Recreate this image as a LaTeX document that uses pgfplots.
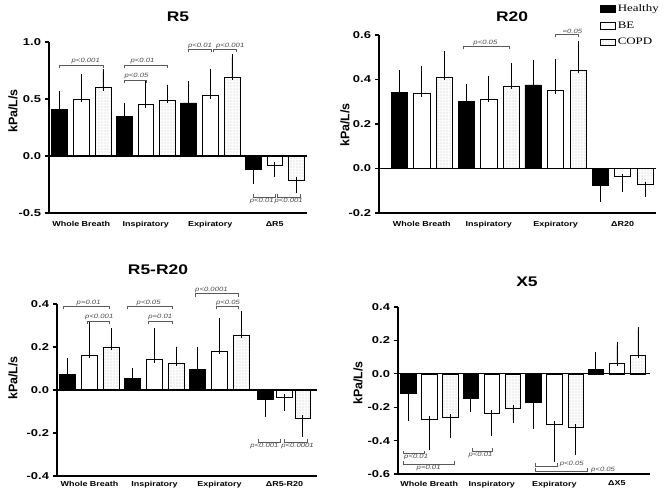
\documentclass[border=0pt]{standalone}
\usepackage{fontspec}
\usepackage{pgfplots}
\usepackage{pgfplotstable}
\pgfplotsset{compat=1.18}
\usetikzlibrary{patterns.meta}
\newfontfamily\wsansb[FakeStretch=1.25]{Liberation Sans Bold}
\newfontfamily\tsansb[FakeStretch=1.3]{Liberation Sans Bold}
\newfontfamily\wsansi[FakeStretch=1.25]{Liberation Sans Italic}
\newfontfamily\nsansb{Liberation Sans Bold}
\newfontfamily\wserif[FakeStretch=1.3]{Liberation Serif}

% ---------------- data: x  y  error-plus  error-minus ----------------
\pgfplotstableread{
x y ep em
-0.337 0.41 0.13 0
0.663 0.35 0.09 0
1.663 0.465 0.165 0
2.663 -0.12 0 0.10
}\RfiveH
\pgfplotstableread{
x y ep em
0 0.50 0.19 0
1 0.45 0.18 0
2 0.53 0.21 0
3 -0.08 0 0.08
}\RfiveB
\pgfplotstableread{
x y ep em
0.337 0.60 0.14 0
1.337 0.49 0.11 0
2.337 0.69 0.175 0
3.337 -0.21 0 0.09
}\RfiveC

\pgfplotstableread{
x y ep em
-0.337 0.343 0.084 0
0.663 0.303 0.064 0
1.663 0.376 0.099 0
2.666 -0.076 0 0.06
}\RtwH
\pgfplotstableread{
x y ep em
0 0.337 0.112 0
1 0.313 0.087 0
2 0.35 0.129 0
2.994 -0.037 0 0.054
}\RtwB
\pgfplotstableread{
x y ep em
0.337 0.41 0.105 0
1.337 0.369 0.091 0
2.337 0.442 0.118 0
3.337 -0.072 0 0.041
}\RtwC

\pgfplotstableread{
x y ep em
-0.337 0.074 0.059 0
0.663 0.053 0.037 0
1.663 0.095 0.093 0
2.70 -0.042 0 0.07
}\RdH
\pgfplotstableread{
x y ep em
0 0.161 0.139 0
1 0.141 0.135 0
2 0.18 0.14 0
3 -0.033 0 0.051
}\RdB
\pgfplotstableread{
x y ep em
0.337 0.198 0.075 0
1.337 0.124 0.064 0
2.337 0.256 0.099 0
3.28 -0.13 0 0.073
}\RdC

\pgfplotstableread{
x y ep em
-0.337 -0.116 0 0.149
0.663 -0.145 0 0.068
1.663 -0.173 0 0.138
2.663 0.026 0.088 0
}\XH
\pgfplotstableread{
x y ep em
0 -0.273 0 0.163
1 -0.235 0 0.118
2 -0.30 0 0.208
3 0.064 0.111 0
}\XB
\pgfplotstableread{
x y ep em
0.337 -0.261 0 0.108
1.337 -0.207 0 0.07
2.337 -0.319 0 0.149
3.337 0.11 0.153 0
}\XC

\pgfplotsset{
  panel/.style={
    scale only axis, clip=false,
    axis x line*=bottom, axis y line*=left,
    axis line style={line width=1.3bp},
    xtick={0,1,2,3},
    xtick style={draw=none},
    ytick align=outside, ytick style={line width=1.3bp, black},
    major tick length=4bp,
    xticklabel style={font=\fontsize{7.2}{8}\selectfont\wsansb, yshift=-5bp},
    yticklabel style={font=\fontsize{10}{11}\selectfont\tsansb, xshift=-0.5bp},
  },
  barcommon/.style={ybar, bar width=0.243, bar shift=0pt, draw=black, line width=0.6bp,
    legend image code/.code={\draw[##1, line width=0.5bp] (0bp,-3.2bp) rectangle (15bp,3.2bp);},
    error bars/y dir=both, error bars/y explicit,
    error bars/error bar style={line width=0.7bp, black},
    error bars/error mark options={mark size=3bp, line width=0.7bp, black}},
  healthy/.style={barcommon, fill=black},
  be/.style={barcommon, fill=white},
  copd/.style={barcommon, pattern={Dots[distance=3bp, radius=0.45bp]}, pattern color=black!70},
}
\newcommand{\pfont}{\fontsize{6.2}{7}\selectfont\wsansi}
% bracket: x1, x2, y, dir (1 = ticks down, -1 = ticks up)
\newcommand{\brk}[4]{\draw[black!65, line width=0.5bp] ([yshift=#4*-3bp]axis cs:#1,#3) -- (axis cs:#1,#3) -- (axis cs:#2,#3) -- ([yshift=#4*-3bp]axis cs:#2,#3);}
% p-value text: x, y, text, anchor
\newcommand{\pv}[4]{\node[font=\pfont, text=black!70, anchor=#4, inner sep=0.8bp] at (axis cs:#1,#2) {#3};}

\begin{document}
\begin{tikzpicture}[x=1bp, y=1bp]
\path[use as bounding box] (0,0) rectangle (667,491);

% ================= R5 =================
\begin{axis}[panel, at={(49bp,278bp)}, anchor=south west, width=258bp, height=171bp,
  xmin=-0.5, xmax=3.5, ymin=-0.5, ymax=1.0,
  ytick={-0.5,0,0.5,1.0}, yticklabels={-0.5,0.0,0.5,1.0},
  xticklabels={Whole Breath,Inspiratory,Expiratory,ΔR5}]
\addplot[healthy] table[x=x, y=y, y error plus=ep, y error minus=em] {\RfiveH};
\addplot[be] table[x=x, y=y, y error plus=ep, y error minus=em] {\RfiveB};
\addplot[copd] table[x=x, y=y, y error plus=ep, y error minus=em] {\RfiveC};
\draw[line width=1.3bp] (axis cs:-0.5,0) -- (axis cs:3.5,0);
\brk{-0.337}{0.337}{0.80}{1} \pv{0.07}{0.80}{p<0.001}{south}
\brk{0.663}{1.337}{0.80}{1} \pv{0.95}{0.80}{p<0.01}{south}
\brk{0.663}{1.0}{0.667}{1} \pv{0.857}{0.667}{p<0.05}{south}
\brk{1.663}{2.01}{0.936}{1} \pv{1.84}{0.936}{p<0.01}{south}
\brk{2.05}{2.40}{0.936}{1} \pv{2.31}{0.936}{p<0.001}{south}
\brk{2.663}{3.0}{-0.36}{-1} \pv{2.80}{-0.36}{p<0.01}{north}
\brk{3.04}{3.40}{-0.36}{-1} \pv{3.215}{-0.36}{p<0.001}{north}
\end{axis}

% ================= R20 =================
\begin{axis}[panel, at={(379bp,278bp)}, anchor=south west, width=277bp, height=178bp,
  xmin=-0.64, xmax=3.5, ymin=-0.2, ymax=0.6,
  ytick={-0.2,0,0.2,0.4,0.6}, yticklabels={-0.2,0.0,0.2,0.4,0.6},
  xticklabels={Whole Breath,Inspiratory,Expiratory,ΔR20},
  legend style={at={(0.798,1.183)}, anchor=north west, draw=none, fill=none,
    font=\fontsize{10}{11}\selectfont\wserif, row sep=4.6bp, inner sep=0pt,
    cells={anchor=west}}]
\addplot[healthy] table[x=x, y=y, y error plus=ep, y error minus=em] {\RtwH};
\addlegendentry{Healthy}
\addplot[be] table[x=x, y=y, y error plus=ep, y error minus=em] {\RtwB};
\addlegendentry{BE}
\addplot[copd] table[x=x, y=y, y error plus=ep, y error minus=em] {\RtwC};
\addlegendentry{COPD}
\draw[line width=1.3bp] (axis cs:-0.64,0) -- (axis cs:3.5,0);
\brk{0.62}{1.30}{0.549}{1} \pv{0.95}{0.549}{p<0.05}{south}
\brk{2.0}{2.335}{0.604}{1} \pv{2.25}{0.604}{=0.05}{south}
\end{axis}

% ================= R5-R20 =================
\begin{axis}[panel, at={(57bp,15bp)}, anchor=south west, width=260bp, height=172bp,
  xmin=-0.5, xmax=3.5, ymin=-0.4, ymax=0.4,
  ytick={-0.4,-0.2,0,0.2,0.4}, yticklabels={-0.4,-0.2,0.0,0.2,0.4},
  xticklabels={Whole Breath,Inspiratory,Expiratory,ΔR5-R20},
  xticklabel style={yshift=3.5bp}]
\addplot[healthy] table[x=x, y=y, y error plus=ep, y error minus=em] {\RdH};
\addplot[be] table[x=x, y=y, y error plus=ep, y error minus=em] {\RdB};
\addplot[copd] table[x=x, y=y, y error plus=ep, y error minus=em] {\RdC};
\draw[line width=1.3bp] (axis cs:-0.5,0) -- (axis cs:3.5,0);
\brk{-0.40}{0.30}{0.389}{1} \pv{-0.013}{0.389}{p=0.01}{south}
\brk{-0.04}{0.30}{0.322}{1} \pv{0.15}{0.322}{p<0.001}{south}
\brk{0.58}{1.28}{0.389}{1} \pv{0.91}{0.389}{p<0.05}{south}
\brk{0.91}{1.28}{0.322}{1} \pv{1.09}{0.322}{p=0.01}{south}
\brk{1.62}{2.29}{0.448}{1} \pv{1.876}{0.448}{p<0.0001}{south}
\brk{1.95}{2.29}{0.389}{1} \pv{2.13}{0.389}{p<0.05}{south}
\brk{2.59}{2.93}{-0.242}{-1} \pv{2.69}{-0.242}{p<0.001}{north}
\brk{2.99}{3.35}{-0.242}{-1} \pv{3.2}{-0.242}{p<0.0001}{north}
\end{axis}

% ================= X5 =================
\begin{axis}[panel, at={(398bp,17bp)}, anchor=south west, width=252bp, height=167bp,
  xmin=-0.5, xmax=3.53, ymin=-0.6, ymax=0.4,
  ytick={-0.6,-0.4,-0.2,0,0.2,0.4}, yticklabels={-0.6,-0.4,-0.2,0.0,0.2,0.4},
  xticklabels={Whole Breath,Inspiratory,Expiratory,ΔX5},
  xticklabel style={yshift=1.5bp}]
\addplot[healthy] table[x=x, y=y, y error plus=ep, y error minus=em] {\XH};
\addplot[be] table[x=x, y=y, y error plus=ep, y error minus=em] {\XB};
\addplot[copd] table[x=x, y=y, y error plus=ep, y error minus=em] {\XC};
\draw[line width=1.3bp] (axis cs:-0.5,0) -- (axis cs:3.53,0);
\brk{-0.41}{-0.075}{-0.478}{-1} \pv{-0.21}{-0.478}{p<0.01}{north}
\brk{-0.41}{0.404}{-0.542}{-1} \pv{-0.01}{-0.542}{p=0.01}{north}
\brk{0.68}{1.01}{-0.464}{-1} \pv{0.82}{-0.464}{p<0.01}{north}
\brk{1.70}{2.04}{-0.552}{-1} \pv{2.28}{-0.542}{p<0.05}{center}
\brk{1.70}{2.52}{-0.584}{-1} \pv{2.78}{-0.578}{p<0.05}{center}
\end{axis}

% titles and axis labels
\node[font=\fontsize{14}{15}\selectfont\wsansb] at (178,474) {R5};
\node[font=\fontsize{14}{15}\selectfont\wsansb] at (512,474) {R20};
\node[font=\fontsize{14}{15}\selectfont\wsansb] at (158,221) {R5-R20};
\node[font=\fontsize{14}{15}\selectfont\wsansb] at (527,209) {X5};
\node[rotate=90, font=\fontsize{12.5}{13}\selectfont\nsansb] at (13,380) {kPa/L/s};
\node[rotate=90, font=\fontsize{12.5}{13}\selectfont\nsansb] at (345,366) {kPa/L/s};
\node[rotate=90, font=\fontsize{12.5}{13}\selectfont\nsansb] at (13,113) {kPa/L/s};
\node[rotate=90, font=\fontsize{12.5}{13}\selectfont\nsansb] at (358,108) {kPa/L/s};
\end{tikzpicture}
\end{document}
